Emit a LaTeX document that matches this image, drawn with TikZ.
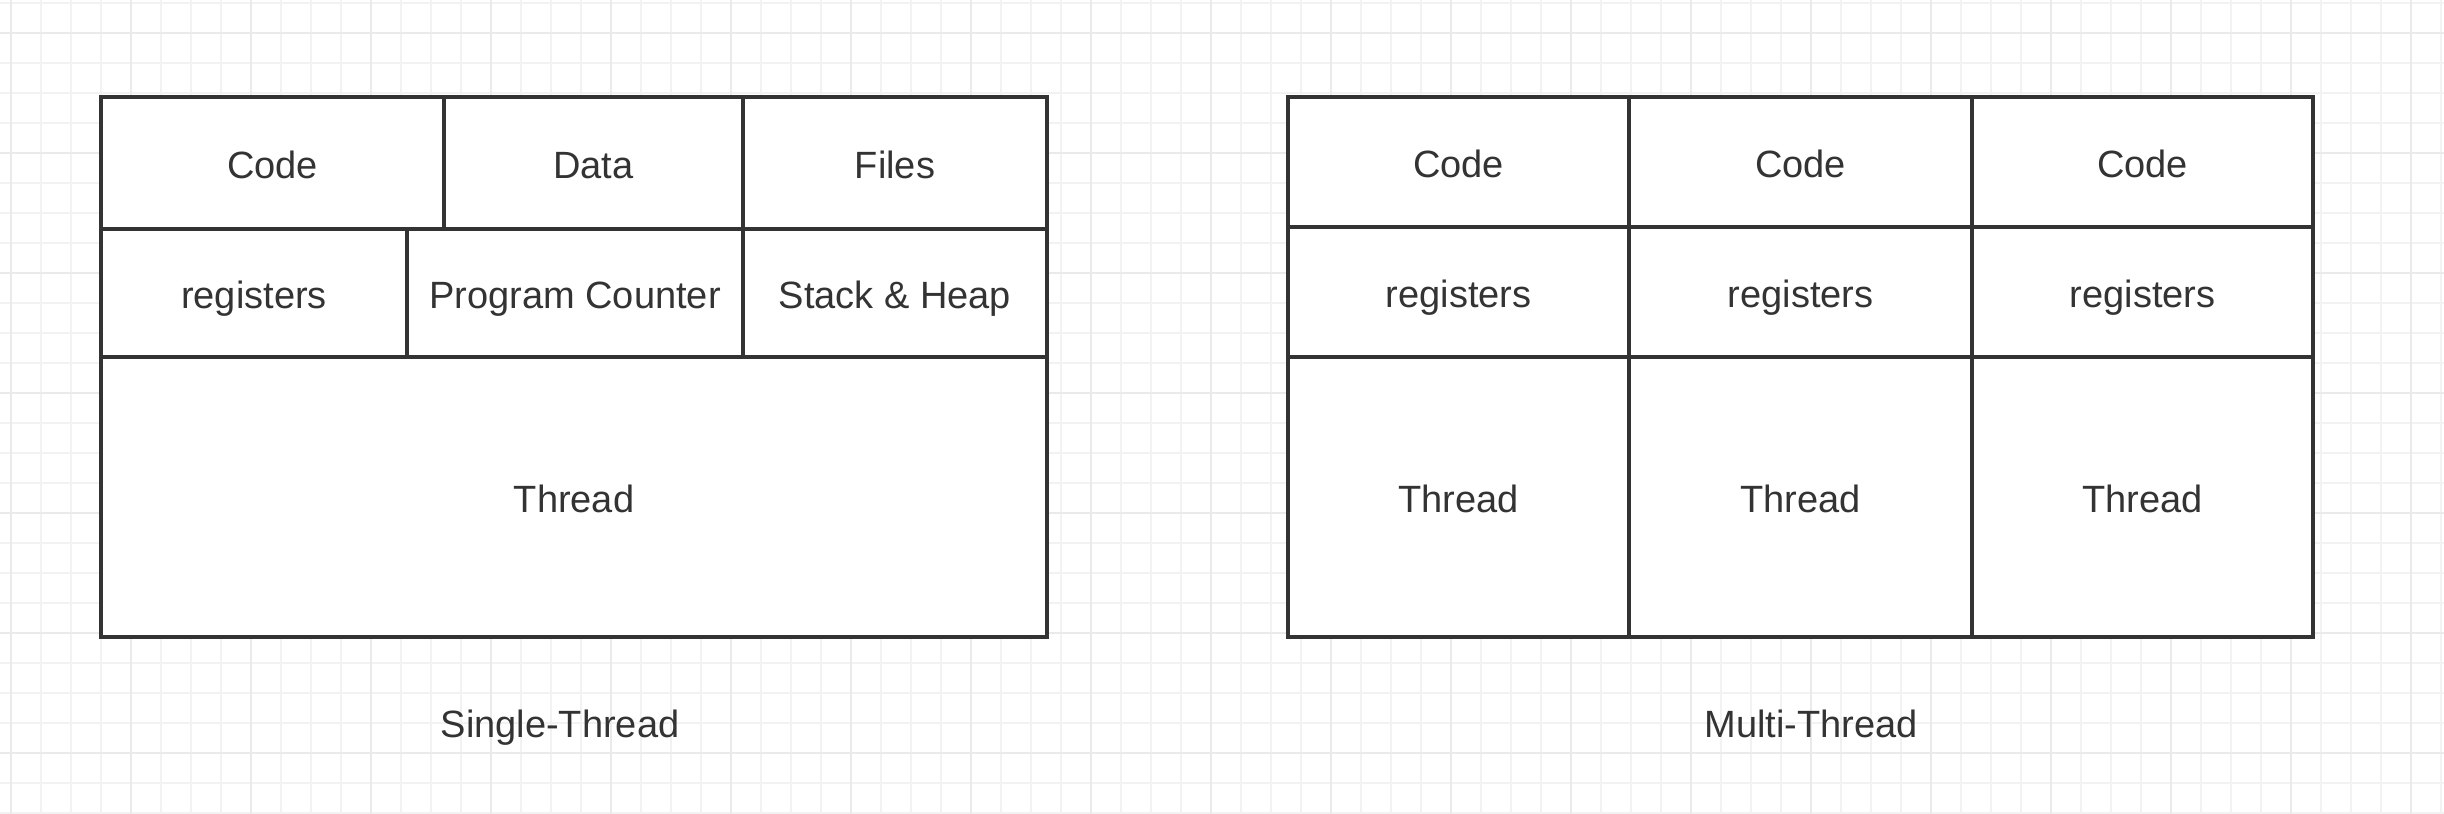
\documentclass[tikz,border=0pt]{standalone}
\usepackage{fontspec}
\setmainfont{Liberation Sans}
\usetikzlibrary{positioning}

\definecolor{inkgray}{HTML}{333333}
\definecolor{gridminor}{HTML}{F2F2F2}
\definecolor{gridmajor}{HTML}{EAEAEA}

\begin{document}
\begin{tikzpicture}[x=0.25pt,y=-0.25pt,
 cell node/.style={rectangle,draw=inkgray,fill=white,line width=0.85pt,inner sep=0pt,
   text=inkgray,font=\fontsize{9.5}{11}\selectfont,text height=8pt,text depth=0.5pt},
 caption node/.style={text=inkgray,font=\fontsize{9.5}{11}\selectfont,
   text height=8pt,text depth=0.5pt}]

  % background and grid
  \fill[white] (0,0) rectangle (2444,814);
  \useasboundingbox (0,0) rectangle (2444,814);
  \foreach \gx in {11,41,...,2441} {
   \draw[gridminor,line width=0.5pt] (\gx,0) -- (\gx,814);}
  \foreach \gy in {2.7,32.7,...,812.7} {
   \draw[gridminor,line width=0.5pt] (0,\gy) -- (2444,\gy);}
  \foreach \gx in {11,131,...,2441} {
   \draw[gridmajor,line width=0.5pt] (\gx,0) -- (\gx,814);}
  \foreach \gy in {32.7,152.7,...,812.7} {
   \draw[gridmajor,line width=0.5pt] (0,\gy) -- (2444,\gy);}

  % single thread process
  \foreach \n/\cx/\cy/\w/\h/\t in {sc/272.5/163/343/132/Code, sd/593.5/163/299/132/Data,
    sf/895/163/304/132/Files, sr/254/293/306/128/registers,
    sp/575/293/336/128/Program Counter, ss/895/293/304/128/Stack \& Heap,
    st/574/497/946/280/Thread} {
   \node[cell node,minimum width=\w*0.25pt,minimum height=\h*0.25pt] (\n) at (\cx,\cy) {\t};}

  % multi thread process
  \foreach \i/\cx/\w in {1/1458.5/341, 2/1800.5/343, 3/2142.5/341} {
   \node[cell node,minimum width=\w*0.25pt,minimum height=130*0.25pt] (mc\i) at (\cx,162) {Code};
   \node[cell node,minimum width=\w*0.25pt,minimum height=130*0.25pt] (mr\i) at (\cx,292) {registers};
   \node[cell node,minimum width=\w*0.25pt,minimum height=280*0.25pt] (mt\i) at (\cx,497) {Thread};}

  \node[caption node] (single) at (560,722) {Single-Thread};
  \node[caption node] (multi) at (1811,722) {Multi-Thread};

\end{tikzpicture}
\end{document}
